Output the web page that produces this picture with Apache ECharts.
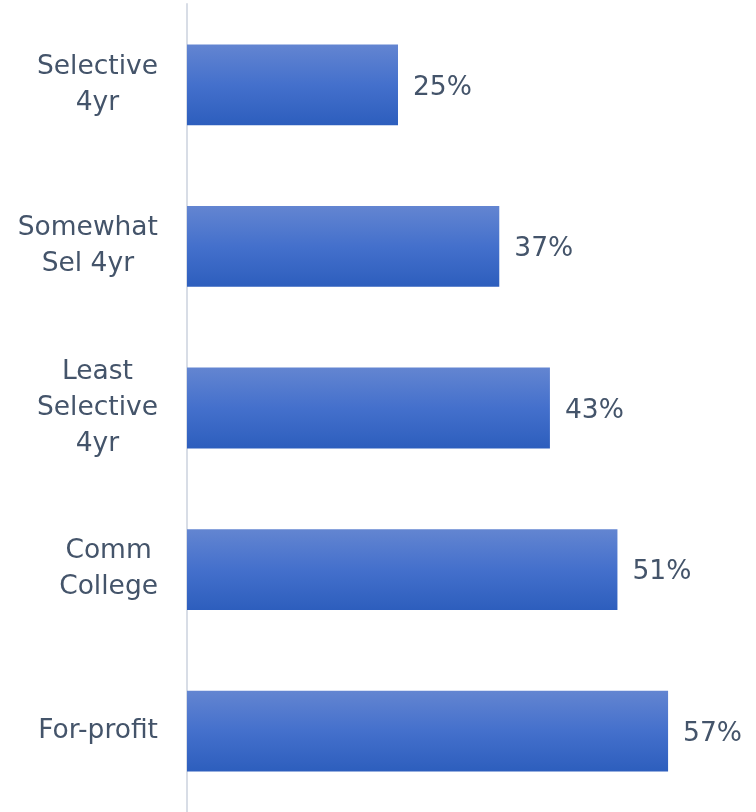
<!DOCTYPE html>
<html>
<head>
<meta charset="utf-8">
<style>
  html, body { margin: 0; padding: 0; background: #ffffff; }
  #chart { width: 756px; height: 812px; }
</style>
<script src="https://cdn.jsdelivr.net/npm/echarts@6/dist/echarts.min.js"></script>
</head>
<body>
<div id="chart"></div>
<script>
// Institution types, listed top to bottom
const categories = ['Selective\n4yr', 'Somewhat\nSel 4yr', 'Least\nSelective\n4yr', 'Comm\nCollege', 'For-profit'];
// Share for each institution type (%)
const shares = [25, 37, 43, 51, 57];

const chart = echarts.init(document.getElementById('chart'), null, { renderer: 'canvas' });

const textColor = '#44546a';
const fontFamily = '"DejaVu Sans", Verdana, sans-serif';

chart.setOption({
  animation: false,
  backgroundColor: '#ffffff',
  grid: { left: 187, top: 4, width: 506.4, bottom: 0, containLabel: false },
  xAxis: {
    type: 'value',
    min: 0,
    max: 60,
    show: false
  },
  yAxis: {
    type: 'category',
    inverse: true,
    data: categories,
    axisLine: { show: true, lineStyle: { color: '#d8dde6', width: 2 } },
    axisTick: { show: false },
    axisLabel: {
      margin: 29,
      align: 'right',
      // each line centred inside the right-aligned label block
      formatter: v => v.split('\n').map(line => '{c|' + line + '}').join('\n'),
      rich: {
        c: {
          align: 'center',
          color: textColor,
          fontSize: 26.5,
          lineHeight: 36,
          fontFamily: fontFamily
        }
      }
    },
    splitLine: { show: false }
  },
  series: [{
    type: 'bar',
    data: shares,
    barWidth: '50%',
    itemStyle: {
      color: new echarts.graphic.LinearGradient(0, 0, 0, 1, [
        { offset: 0, color: '#6385d1' },
        { offset: 0.5, color: '#4470cc' },
        { offset: 1, color: '#2d5ebd' }
      ])
    },
    label: {
      show: true,
      position: 'right',
      distance: 15,
      offset: [0, 3],
      color: textColor,
      fontSize: 26.5,
      fontFamily: fontFamily,
      formatter: p => p.value + '%'
    }
  }]
});
</script>
</body>
</html>
